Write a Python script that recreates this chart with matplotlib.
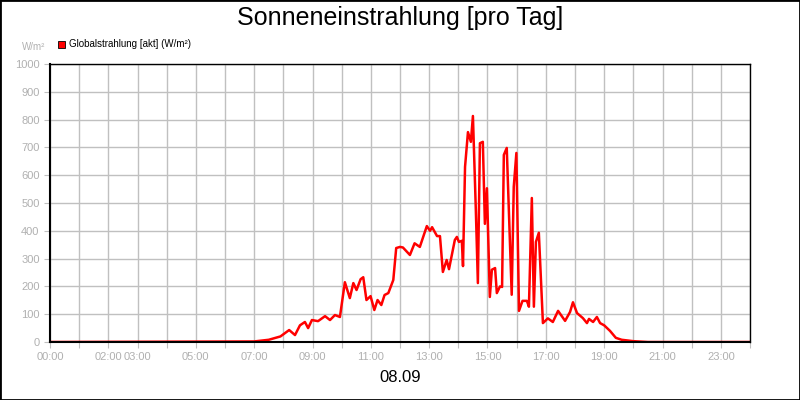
import numpy as np
import matplotlib
matplotlib.use("Agg")
import matplotlib.pyplot as plt

plt.rcParams['font.family'] = ['Liberation Sans', 'DejaVu Sans']

# time in hours, value in W/m²
hours = [0, 7.0, 7.5, 7.9, 8.2, 8.4, 8.57, 8.74, 8.85, 8.98, 9.19, 9.43, 9.6, 9.77, 9.94,
         10.11, 10.28, 10.4, 10.51, 10.65, 10.74, 10.85, 10.99, 11.12, 11.23, 11.36, 11.47,
         11.6, 11.77, 11.87, 12.0, 12.1, 12.34, 12.5, 12.68, 12.92, 13.03, 13.1, 13.27, 13.37,
         13.47, 13.6, 13.68, 13.88, 13.95, 14.02, 14.12, 14.16, 14.23, 14.33, 14.43, 14.5,
         14.6, 14.67, 14.74, 14.84, 14.91, 14.98, 15.08, 15.15, 15.26, 15.32, 15.43, 15.5,
         15.56, 15.66, 15.83, 15.9, 15.99, 16.08, 16.2, 16.35, 16.42, 16.52, 16.59, 16.66,
         16.76, 16.9, 17.07, 17.24, 17.42, 17.66, 17.83, 17.93, 18.07, 18.27, 18.41, 18.48,
         18.62, 18.75, 18.86, 19.0, 19.2, 19.4, 19.6, 20.0, 20.5, 24.0]
values = [0, 2, 8, 20, 43, 25, 60, 72, 50, 79, 75, 93, 79, 97, 90,
          215, 158, 212, 187, 226, 233, 151, 165, 115, 151, 133, 169,
          176, 223, 338, 342, 340, 313, 355, 342, 417, 400, 413, 381, 381,
          252, 295, 262, 367, 378, 360, 364, 273, 630, 755, 720, 813,
          475, 212, 715, 720, 425, 553, 162, 260, 266, 176, 200, 198,
          673, 698, 170, 558, 680, 112, 148, 148, 127, 518, 127, 360,
          393, 68, 85, 72, 112, 76, 108, 143, 104, 86, 68, 83,
          72, 90, 68, 60, 40, 15, 8, 3, 0, 0]
tick_hours = [0, 2, 3, 5, 7, 9, 11, 13, 15, 17, 19, 21, 23]

fig = plt.figure(figsize=(8, 4), dpi=100)
fig.patches.append(plt.Rectangle((0, 0), 1, 1, transform=fig.transFigure,
                                 fill=False, edgecolor="black", linewidth=2))
ax = fig.add_axes([50 / 800, 58 / 400, 700 / 800, 278 / 400])
ax.plot(hours, values, color="#ff0000", linewidth=1.8)
ax.set_xlim(0, 24)
ax.set_ylim(0, 1000)
ax.set_xticks(range(0, 25))
ax.set_xticklabels([f"{h:02d}:00" if h in tick_hours else "" for h in range(25)])
ax.set_yticks(range(0, 1001, 100))
ax.grid(color="#c0c0c0", linewidth=1)
ax.tick_params(colors="#c0c0c0", labelcolor="#b0b0b0", labelsize=8, length=4)
for s in ["top", "right"]:
    ax.spines[s].set_linewidth(1)
ax.spines["bottom"].set_linewidth(1.5)
ax.spines["left"].set_linewidth(1.5)

fig.text(0.5, 0.955, "Sonneneinstrahlung [pro Tag]", ha="center", va="center", fontsize=18)
fig.text(0.5, 0.055, "08.09", ha="center", va="center", fontsize=12)
fig.text(22 / 800, 1 - 47 / 400, "W/m²", ha="left", va="center", fontsize=7, color="#b0b0b0")
fig.patches.append(plt.Rectangle((58 / 800, 1 - 48 / 400), 7 / 800, 7 / 400,
                                 transform=fig.transFigure, facecolor="#ff0000", edgecolor="black", linewidth=0.6))
fig.text(69 / 800, 1 - 44 / 400, "Globalstrahlung [akt] (W/m²)", ha="left", va="center", fontsize=7)

fig.savefig("out.png", dpi=100)
